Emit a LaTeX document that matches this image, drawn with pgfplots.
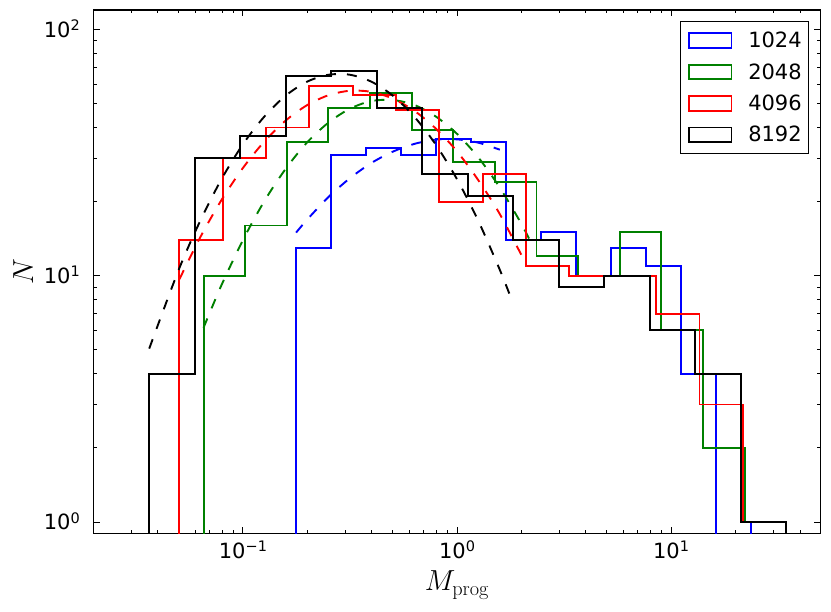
\RequirePackage{fix-cm}
\documentclass[border=0pt]{standalone}
\usepackage[no-math]{fontspec}
\setmainfont{DejaVu Sans}
\usepackage{pgfplots}
\pgfplotsset{compat=1.18}
\definecolor{mblue}{rgb}{0,0,1}
\definecolor{mgreen}{rgb}{0,0.5,0}
\definecolor{mred}{rgb}{1,0,0}
\newcommand\sups[1]{\raisebox{6.5pt}{\fontsize{14.5}{14.5}\selectfont #1}}
\begin{document}
\begin{tikzpicture}
\useasboundingbox (-93.3pt,-78.7pt) rectangle (737.7pt,533.3pt);
\begin{axis}[
  xmode=log, ymode=log,
  scale only axis, width=727.4pt, height=523.3pt,
  xmin=0.02, xmax=50, ymin=0.9, ymax=120,
  xtick={0.1,1,10}, xticklabels={10\sups{−1},10\sups{0},10\sups{1}},
  ytick={1,10,100}, yticklabels={10\sups{0},10\sups{1},10\sups{2}},
  minor xtick={0.02,0.03,0.04,0.05,0.06,0.07,0.08,0.09,0.2,0.3,0.4,0.5,0.6,0.7,0.8,0.9,2,3,4,5,6,7,8,9,20,30,40},
  minor ytick={2,3,4,5,6,7,8,9,20,30,40,50,60,70,80,90},
  tick align=inside, major tick length=6.5pt, minor tick length=3.5pt,
  every tick/.style={black, line width=0.9pt},
  axis line style={line width=1.2pt},
  ticklabel style={font=\fontsize{21}{25}\selectfont, inner sep=0pt},
  xticklabel style={anchor=base, yshift=-25pt},
  yticklabel style={anchor=base east, xshift=-13.3pt, yshift=-7.65pt},
  xlabel={$M_{\rm prog}$}, ylabel={$N$},
  label style={font=\fontsize{29}{34}\selectfont},
  xlabel style={at={(axis description cs:0.5,0)}, anchor=base, yshift=-57.4pt},
  ylabel style={at={(axis description cs:0,0.5)}, anchor=center, yshift=70pt},
  every axis plot/.append style={line width=1.9pt},
  legend style={at={(1,1)}, anchor=north east, xshift=-11.4pt, yshift=-11pt,
    draw=black, line width=1.2pt, inner xsep=7pt, inner ysep=10.5pt,
    row sep=14.3pt, column sep=16pt, font=\fontsize{21}{25}\selectfont,
    nodes={inner sep=0pt}},
  legend cell align=left,
  legend image code/.code={\draw[#1, line width=1.7pt, solid] (0pt,-7.3pt) rectangle (42.7pt,7.3pt);},
]
% blue 1024
\addplot[mblue, const plot mark right] coordinates {
 (0.1772,0.5) (0.2582,13) (0.3763,31) (0.5483,33) (0.7991,31) (1.1647,36) (1.6968,35)
 (2.4737,14) (3.6048,15) (5.2529,10) (7.6543,13) (11.156,11) (16.255,4) (23.69,0.5)
 (34.52,1) (34.52,0.5)};
\addlegendentry{1024}
\addplot[mblue, dash pattern=on 10pt off 11pt, smooth, forget plot] coordinates {
 (0.1772,14.97) (0.1995,16.9) (0.2512,20.9) (0.3162,24.9) (0.398,28.7) (0.501,31.9)
 (0.631,34.3) (0.794,35.7) (1,35.8) (1.259,34.7) (1.585,32.5)};
% green 2048
\addplot[mgreen, const plot mark right] coordinates {
 (0.06549,0.5) (0.10245,10) (0.16029,16) (0.25084,35) (0.39246,48) (0.61404,55)
 (0.96096,39) (1.5034,29) (2.3522,24) (3.6811,12) (5.7597,10) (9.0117,15) (14.102,6)
 (22.07,2) (34.52,1) (34.52,0.5)};
\addlegendentry{2048}
\addplot[mgreen, dash pattern=on 10pt off 11pt, smooth, forget plot] coordinates {
 (0.06546,6.15) (0.0794,9.16) (0.1,13.96) (0.1259,20.1) (0.1585,27.2) (0.1995,34.8)
 (0.2512,41.9) (0.3162,47.7) (0.398,51.2) (0.501,51.7) (0.631,49.4) (0.794,44.4)
 (1,37.7) (1.259,30.2) (1.585,22.8) (1.995,16.3) (2.268,13.1)};
% red 4096
\addplot[mred, const plot mark right] coordinates {
 (0.05040,0.5) (0.08035,14) (0.12809,30) (0.20417,40) (0.32556,59) (0.51892,54)
 (0.82725,47) (1.3189,20) (2.1025,26) (3.3520,11) (5.3445,10) (8.5203,10) (13.583,7)
 (21.654,3) (34.52,1) (34.52,0.5)};
\addlegendentry{4096}
\addplot[mred, dash pattern=on 10pt off 11pt, smooth, forget plot] coordinates {
 (0.0505,9.68) (0.0631,14.3) (0.0794,20.3) (0.1,27.4) (0.1259,35.1) (0.1585,42.7)
 (0.1995,49.3) (0.2512,54.1) (0.3162,56.4) (0.398,55.8) (0.501,52.4) (0.631,46.8)
 (0.794,39.7) (1,32.0) (1.259,24.4) (1.585,17.8) (2.097,11.2)};
% black 8192
\addplot[black, const plot mark right] coordinates {
 (0.03648,0.5) (0.05953,4) (0.0971,30) (0.1584,37) (0.2584,65) (0.4216,68) (0.6879,48)
 (1.122,26) (1.830,21) (2.987,14) (4.873,9) (7.951,10) (12.97,6) (21.16,4)
 (34.52,1) (34.52,0.5)};
\addlegendentry{8192}
\addplot[black, dash pattern=on 10pt off 11pt, smooth, forget plot] coordinates {
 (0.0365,5.06) (0.0501,10.57) (0.0631,16.67) (0.0794,24.66) (0.1,34.2) (0.1259,44.3)
 (0.1585,53.9) (0.1995,61.4) (0.2512,65.5) (0.3162,65.5) (0.398,61.4) (0.501,53.9)
 (0.631,44.3) (0.794,34.2) (1,24.66) (1.259,16.67) (1.585,10.57) (1.798,8.02)};
\end{axis}
\end{tikzpicture}
\end{document}
